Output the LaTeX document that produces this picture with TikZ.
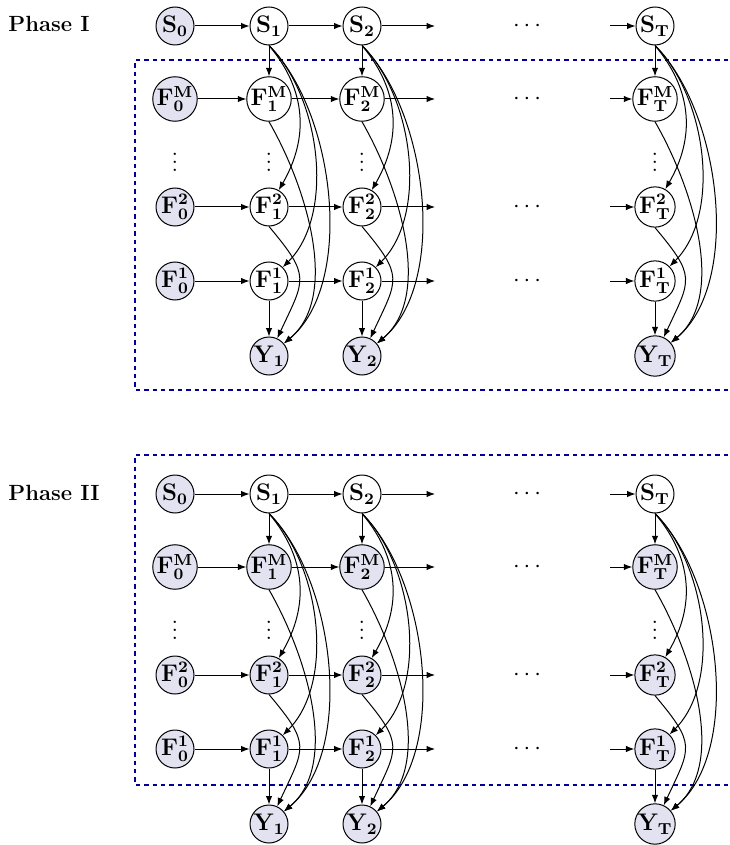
\documentclass[tikz,border=0pt]{standalone}
\usetikzlibrary{arrows.meta}
\definecolor{nodefill}{RGB}{226,226,240}
\definecolor{boxblue}{RGB}{0,0,150}
\begin{document}
\begin{tikzpicture}[x=0.5pt,y=0.5pt,
  font=\fontsize{12}{14}\selectfont,
  var/.style={circle,draw,line width=0.5pt,minimum size=19pt,inner sep=0pt},
  obs/.style={var,fill=nodefill},
  arr/.style={-{Latex[length=4.2pt,width=3.2pt]},line width=0.5pt},
  box/.style={draw=boxblue,line width=1.2pt,dash pattern=on 2.2pt off 2pt},
  lab/.style={font=\fontsize{11}{13}\selectfont\bfseries,anchor=west,inner sep=0pt}]
\useasboundingbox (0,0) rectangle (729,-845);
% dashed boxes
\draw[box] (745,-60) -- (135,-60) -- (135,-390) -- (745,-390);
\draw[box] (745,-455) -- (135,-455) -- (135,-785) -- (745,-785);
% labels
\node[lab] (ph1) at (8,-24) {Phase I};
\node[lab] (ph2) at (8,-493) {Phase II};
\foreach \p/\o/\fst in {a/0/var,b/468/obs}{
  % first column
  \node[obs] (S\p0)  at (175,-26-\o)  {$\mathbf{S_0}$};
  \node[obs] (FM\p0) at (175,-99-\o)  {$\mathbf{F^M_0}$};
  \node[obs] (F2\p0) at (175,-207-\o) {$\mathbf{F^2_0}$};
  \node[obs] (F1\p0) at (175,-281-\o) {$\mathbf{F^1_0}$};
  \node (V\p0) at (175,-156-\o) {$\vdots$};
  % other columns
  \foreach \c/\x in {1/269,2/362,T/655}{
    \node[var]  (S\p\c)  at (\x,-26-\o)  {$\mathbf{S_{\c}}$};
    \node[\fst] (FM\p\c) at (\x,-99-\o)  {$\mathbf{F^M_{\c}}$};
    \node[\fst] (F2\p\c) at (\x,-207-\o) {$\mathbf{F^2_{\c}}$};
    \node[\fst] (F1\p\c) at (\x,-281-\o) {$\mathbf{F^1_{\c}}$};
    \node[obs]  (Y\p\c)  at (\x,-356-\o) {$\mathbf{Y_{\c}}$};
    \node (V\p\c) at (\x,-156-\o) {$\vdots$};
    \draw[arr] (S\p\c) -- (FM\p\c);
    \draw[arr] (F1\p\c) -- (Y\p\c);
    \draw[arr] (S\p\c.south) to[out=-50,in=60,looseness=1.05] (F2\p\c);
    \draw[arr] (S\p\c.south) to[out=-45,in=45,looseness=0.85] (F1\p\c);
    \draw[arr] (S\p\c.south) to[out=-45,in=40,looseness=0.8] (Y\p\c);
    \draw[arr] (FM\p\c.south) to[out=-60,in=40,looseness=0.85] (Y\p\c);
    \draw[arr] (F2\p\c.south) to[out=-50,in=65,looseness=1.5] (Y\p\c);
  }
  % horizontal chains
  \foreach \r/\y in {S/26,FM/99,F2/207,F1/281}{
    \coordinate (E\r\p) at (435,-\y-\o);
    \coordinate (B\r\p) at (610,-\y-\o);
    \node (D\r\p) at (527,-\y-\o) {$\cdots$};
    \draw[arr] (\r\p0) -- (\r\p1);
    \draw[arr] (\r\p1) -- (\r\p2);
    \draw[arr] (\r\p2) -- (E\r\p);
    \draw[arr] (B\r\p) -- (\r\p T);
  }
}
\end{tikzpicture}
\end{document}
